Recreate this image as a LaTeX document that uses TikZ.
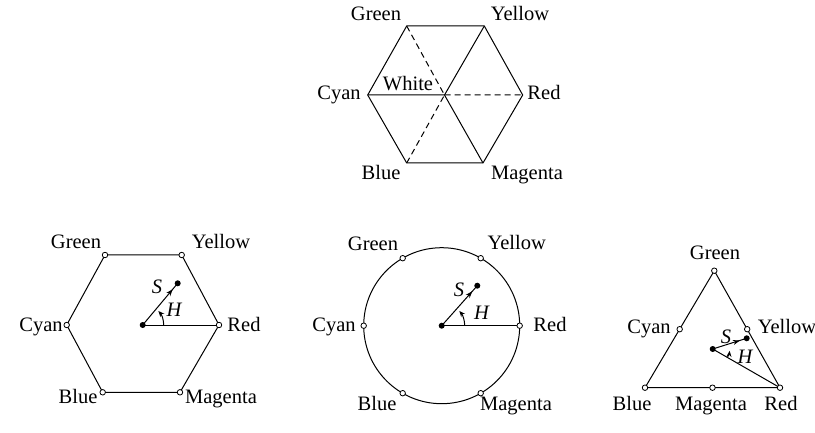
\documentclass[tikz,border=0pt]{standalone}
\usepackage{fontspec}
\setmainfont{Liberation Serif}
\usetikzlibrary{arrows.meta,decorations.markings}
\begin{document}
\begin{tikzpicture}[x=1pt,y=-1pt, line width=1pt,
 lbl/.style={anchor=base, font=\fontsize{20.5}{24}\selectfont, inner sep=0pt},
 var/.style={font=\fontsize{20.5}{24}\selectfont\itshape, inner sep=0pt},
 vtx/.style={circle, draw, fill=white, inner sep=0pt, minimum size=5.5pt, line width=0.8pt},
 dotc/.style={circle, fill=black, inner sep=0pt, minimum size=6pt},
 vec/.style={postaction={decorate}, decoration={markings, mark=at position #1 with {\arrow{Stealth[length=7pt,width=5pt]}}}},
 hue/.style={-{Stealth[length=6pt,width=5pt]}},
 dashedline/.style={dash pattern=on 6pt off 4pt}
]
\useasboundingbox (0,0) rectangle (815,433);

% ---------- top hexagon ----------
\coordinate (tG) at (406.7,26);
\coordinate (tY) at (484.3,26);
\coordinate (tC) at (367.7,95);
\coordinate (tR) at (522.7,95);
\coordinate (tB) at (406.7,163);
\coordinate (tM) at (483,163);
\coordinate (tW) at (444.5,95);
\draw (tG)--(tY)--(tR)--(tM)--(tB)--(tC)--cycle;
\draw (tC)--(tW) (tY)--(tW) (tM)--(tW);
\draw[dashedline] (tG)--(tW) (tB)--(tW) (tW)--(tR);
\node[lbl] (ltG) at (376,20.7) {Green};
\node[lbl] (ltY) at (520,20.7) {Yellow};
\node[lbl] (ltC) at (339,100) {Cyan};
\node[lbl] (ltR) at (544,100) {Red};
\node[lbl] (ltW) at (408,90.5) {White};
\node[lbl] (ltB) at (381,179.3) {Blue};
\node[lbl] (ltM) at (527,179.3) {Magenta};

% ---------- bottom-left hexagon ----------
\coordinate (hG) at (105,255);
\coordinate (hY) at (181.7,255);
\coordinate (hC) at (66.7,325);
\coordinate (hR) at (219,325);
\coordinate (hB) at (102.7,392.3);
\coordinate (hM) at (180,392.3);
\coordinate (hO) at (142.7,325);
\coordinate (hS) at (177.7,283.3);
\draw (hG)--(hY)--(hR)--(hM)--(hB)--(hC)--cycle;
\draw (hO)--(hR);
\draw[vec=0.86] (hO)--(hS);
\draw[hue] (hO) ++(21,0) arc[start angle=0, end angle=-42, radius=21];
\foreach \v in {hG,hY,hC,hR,hB,hM} \node[vtx] (m\v) at (\v) {};
\node[dotc] (dhO) at (hO) {};
\node[dotc] (dhS) at (hS) {};
\node[var] (hSl) at (157,287) {S};
\node[var] (hHl) at (174,310) {H};
\node[lbl] (lhG) at (76,249) {Green};
\node[lbl] (lhY) at (221,249) {Yellow};
\node[lbl] (lhC) at (41,331.5) {Cyan};
\node[lbl] (lhR) at (244,331.5) {Red};
\node[lbl] (lhB) at (78,403.3) {Blue};
\node[lbl] (lhM) at (221,403.3) {Magenta};

% ---------- circle ----------
\coordinate (cO) at (441.7,325.7);
\coordinate (cR) at (519.7,325.7);
\coordinate (cY) at (480.7,258.2);
\coordinate (cG) at (402.7,258.2);
\coordinate (cC) at (363.7,325.7);
\coordinate (cB) at (402.7,393.2);
\coordinate (cM) at (480.7,393.2);
\coordinate (cS) at (477.3,285.7);
\draw (cO) circle[radius=78];
\draw (cO)--(cR);
\draw[vec=0.86] (cO)--(cS);
\draw[hue] (cO) ++(23,0) arc[start angle=0, end angle=-40, radius=23];
\foreach \v in {cG,cY,cC,cR,cB,cM} \node[vtx] (m\v) at (\v) {};
\node[dotc] (dcO) at (cO) {};
\node[dotc] (dcS) at (cS) {};
\node[var] (cSl) at (459,290) {S};
\node[var] (cHl) at (481.5,312.5) {H};
\node[lbl] (lcG) at (373,250.5) {Green};
\node[lbl] (lcY) at (516.7,250) {Yellow};
\node[lbl] (lcC) at (334,331.5) {Cyan};
\node[lbl] (lcR) at (550,331.5) {Red};
\node[lbl] (lcB) at (377,410) {Blue};
\node[lbl] (lcM) at (516,410) {Magenta};

% ---------- triangle ----------
\coordinate (rG) at (714.3,270.7);
\coordinate (rB) at (645,387.7);
\coordinate (rR) at (780,387.7);
\coordinate (rC) at (679.7,329.2);
\coordinate (rY) at (747.2,329.2);
\coordinate (rM) at (712.5,387.7);
\coordinate (rO) at (712.7,349);
\coordinate (rS) at (746.7,338.3);
\draw (rG)--(rR)--(rB)--cycle;
\draw (rO)--(rR);
\draw[vec=0.8] (rO)--(rS);
\draw[hue] (rO) ++(29.9:17) arc[start angle=29.9, end angle=6, radius=17];
\foreach \v in {rG,rB,rR,rC,rY,rM} \node[vtx] (m\v) at (\v) {};
\node[dotc] (drO) at (rO) {};
\node[dotc] (drS) at (rS) {};
\node[var] (rSl) at (726,336.5) {S};
\node[var] (rHl) at (745,356.5) {H};
\node[lbl] (lrG) at (715,260) {Green};
\node[lbl] (lrC) at (649,333.3) {Cyan};
\node[lbl] (lrY) at (787,333.3) {Yellow};
\node[lbl] (lrB) at (632,410) {Blue};
\node[lbl] (lrM) at (711,410) {Magenta};
\node[lbl] (lrR) at (781,410) {Red};
\end{tikzpicture}
\end{document}
